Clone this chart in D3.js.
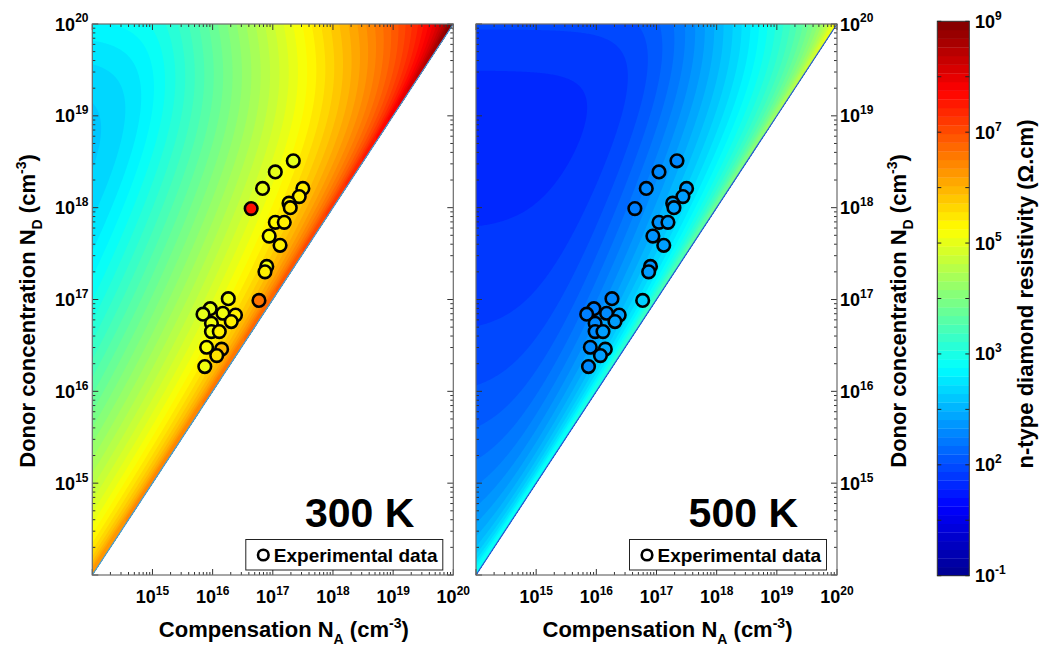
<!DOCTYPE html>
<html><head><meta charset="utf-8">
<script src="https://cdn.jsdelivr.net/npm/d3@7"></script>
<style>
body{margin:0;background:#fff}
svg{font-family:"Liberation Sans",Arial,Helvetica,sans-serif;font-weight:bold}
</style></head><body>
<svg id="chart" width="1045" height="650"></svg>
<script>
// ---------------- data ----------------
const axisDomain = [1e14, 1e20];
const majorExponents = [15, 16, 17, 18, 19, 20];
const temperatures = [300, 500];
const panelLabels = ["300 K", "500 K"];
const legendLabel = "Experimental data";
// experimental samples: compensation N_A and donor N_D (cm^-3)
const sampleNA = [2.19e17,1.10e17,6.76e16,3.16e17,2.75e17,4.37e16,1.86e17,1.95e17,1.10e17,1.55e17,
  8.71e16,1.32e17,7.94e16,7.41e16,5.89e16,1.82e16,9.12e15,1.48e16,2.40e16,6.92e15,
  2.04e16,9.55e15,9.55e15,1.29e16,1.41e16,7.94e15,1.17e16,7.41e15];
const sampleND = [3.24e18,2.45e18,1.62e18,1.62e18,1.32e18,9.77e17,1.12e18,1.00e18,6.92e17,6.92e17,
  4.90e17,3.89e17,2.29e17,2.00e17,9.77e16,1.02e17,7.94e16,7.08e16,6.76e16,6.92e16,
  5.75e16,5.50e16,4.47e16,4.47e16,2.88e16,3.02e16,2.45e16,1.86e16];
// measured log10 resistivity of samples (Ohm.cm)
const sampleLogRho300 = [5.0,5.0,5.0,5.4,5.4,7.6,5.4,5.5,5.3,5.4,5.2,5.4,5.1,5.4,6.6,5.1,5.0,5.1,5.4,5.0,
  5.4,5.1,5.1,5.4,5.9,5.2,5.5,5.1];
const sampleLogRho500 = [1.6,1.6,1.6,1.8,1.8,1.5,1.8,1.8,1.7,1.8,1.7,1.8,1.7,1.8,2.3,1.6,1.5,1.6,1.8,1.5,
  1.8,1.6,1.6,1.8,1.9,1.6,1.8,1.6];
// colour bar: log10 range and printed tick labels (as in original)
const colorbarDomain = [-1, 9];
const colorbarTickValues = [-1, 1, 3, 5, 7, 9];
const colorbarTickLabels = ["-1", "2", "3", "5", "7", "9"];
const colorbarMinorValues = [0, 2, 4, 6, 8];
// physical model of n-type (P-doped) diamond resistivity
const model = {Ed: 0.535, Nc300: 1.5e19, g: 2, muMax: 2900, beta: 1.0,
  N1: 3.24e16, a1: 0.45, gamma: 2.5, N2: 3.3e18, a2: 1.5, rMin: 1.15};

// ---------------- helpers ----------------
const svg = d3.select("#chart");
const jet = d3.scaleLinear().domain([0, 0.125, 0.375, 0.625, 0.875, 1])
  .range(["#00008f", "#0000ff", "#00ffff", "#ffff00", "#ff0000", "#800000"]).clamp(true);
const cnorm = d3.scaleLinear().domain(colorbarDomain).range([0, 1]).clamp(true);
const colorOf = v => jet(cnorm(v));

function logRho(NA, ND, T) {
  const kT = 8.617e-5 * T, tr = T / 300;
  const Nc = model.Nc300 * Math.pow(tr, 1.5);
  const n1 = Nc / model.g * Math.exp(-model.Ed / kT);
  const d = ND - NA, b = NA + n1;
  const n = 2 * n1 * d / (b + Math.sqrt(b * b + 4 * n1 * d));
  const N = ND + NA;
  const invMu = (Math.pow(tr, model.beta) + Math.pow(N / model.N1, model.a1) * Math.pow(tr, model.gamma)
    + Math.pow(N / model.N2, model.a2)) / model.muMax;
  return -Math.log10(1.602e-19 * n / invMu);
}

const minorValues = [];
for (let e = 14; e < 20; e++) for (let m = 2; m <= 9; m++) minorValues.push(m * Math.pow(10, e));
const majorValues = d3.range(14, 21).map(e => Math.pow(10, e));

const panelW = 361, plotTop = 24, plotBottom = 575;
const panels = [{x0: 92.3, labelSide: "left"}, {x0: 476, labelSide: "right"}];

function supLabel(g, x, y, exp, anchor, fs, ss) {
  const t = g.append("text").attr("x", x).attr("y", y).attr("text-anchor", anchor)
    .attr("font-size", fs).attr("fill", "#000");
  t.append("tspan").text("10");
  t.append("tspan").attr("dy", -0.45 * fs).attr("font-size", ss).text(exp);
  return t;
}

const nx = 300, ny = 300;
const levels = d3.range(colorbarDomain[0], colorbarDomain[1] + 1e-9, 10 / 64);

panels.forEach((p, k) => {
  const T = temperatures[k];
  const xs = d3.scaleLog().domain(axisDomain).range([p.x0, p.x0 + panelW]);
  const ys = d3.scaleLog().domain(axisDomain).range([plotBottom, plotTop]);
  const g = svg.append("g");

  // grid of modelled resistivity
  const vals = new Array(nx * ny);
  for (let j = 0; j < ny; j++) {
    const ld = 20 - (j + 0.5) * 6 / ny;
    for (let i = 0; i < nx; i++) {
      const la = 14 + (i + 0.5) * 6 / nx;
      const NA = Math.pow(10, la);
      const ND = Math.max(Math.pow(10, ld), NA * model.rMin);
      vals[i + j * nx] = Math.max(colorbarDomain[0], Math.min(9.9, logRho(NA, ND, T)));
    }
  }
  const contours = d3.contours().size([nx, ny]).thresholds(levels)(vals);
  const proj = d3.geoTransform({point: function(x, y) {
    this.stream.point(xs(Math.pow(10, 14 + x * 6 / nx)), ys(Math.pow(10, 20 - y * 6 / ny)));
  }});
  const path = d3.geoPath(proj);
  const clipId = "clip" + k;
  svg.append("clipPath").attr("id", clipId).append("path")
    .attr("d", d3.line()([[xs(1e14), ys(1e14)], [xs(1e20), ys(1e20)], [xs(1e14), ys(1e20)]]) + "Z");
  g.append("g").attr("clip-path", `url(#${clipId})`).selectAll("path").data(contours).join("path")
    .attr("d", path).attr("fill", d => colorOf(d.value + 5 / 64)).attr("stroke", "none");
  // diagonal N_D = N_A
  g.append("line").attr("x1", xs(1e14)).attr("y1", ys(1e14)).attr("x2", xs(1e20)).attr("y2", ys(1e20))
    .attr("stroke", k === 0 ? "#3f9be0" : "#2a55d0").attr("stroke-width", 1.2);

  // experimental points
  const logr = k === 0 ? sampleLogRho300 : sampleLogRho500;
  g.append("g").selectAll("circle").data(sampleNA.map((a, i) => ({a, d: sampleND[i], r: logr[i]})))
    .join("circle").attr("cx", d => xs(d.a)).attr("cy", d => ys(d.d)).attr("r", 6.3)
    .attr("fill", d => colorOf(d.r)).attr("stroke", "#000").attr("stroke-width", 2.6);

  // frame + ticks on all four sides (inward)
  const ax = g.append("g").attr("stroke", "#333").attr("stroke-width", 1);
  const addTicks = (vs, len) => {
    vs.forEach(v => {
      const X = xs(v), Y = ys(v);
      ax.append("line").attr("x1", X).attr("x2", X).attr("y1", plotBottom).attr("y2", plotBottom - len);
      ax.append("line").attr("x1", X).attr("x2", X).attr("y1", plotTop).attr("y2", plotTop + len);
      ax.append("line").attr("y1", Y).attr("y2", Y).attr("x1", xs.range()[0]).attr("x2", xs.range()[0] + len);
      ax.append("line").attr("y1", Y).attr("y2", Y).attr("x1", xs.range()[1]).attr("x2", xs.range()[1] - len);
    });
  };
  addTicks(minorValues, 3);
  addTicks(majorValues, 6);
  g.append("rect").attr("x", xs.range()[0]).attr("y", plotTop).attr("width", panelW).attr("height", plotBottom - plotTop)
    .attr("fill", "none").attr("stroke", "#6b6b6b").attr("stroke-width", 1.2);

  // tick labels
  majorExponents.forEach(e => {
    supLabel(g, xs(Math.pow(10, e)), 603, String(e), "middle", 18, 12);
    if (p.labelSide === "left") supLabel(g, 88.5, ys(Math.pow(10, e)) + 6.5, String(e), "end", 18, 12);
    else supLabel(g, xs.range()[1] + 3, ys(Math.pow(10, e)) + 6.5, String(e), "start", 18, 12);
  });

  // axis titles
  const cx = (xs.range()[0] + xs.range()[1]) / 2 + 11;
  const xt = g.append("text").attr("x", cx).attr("y", 637).attr("text-anchor", "middle").attr("font-size", 22);
  xt.append("tspan").text("Compensation N");
  xt.append("tspan").attr("dy", 7).attr("font-size", 14).text("A");
  xt.append("tspan").attr("dy", -7).text(" (cm");
  xt.append("tspan").attr("dy", -9).attr("font-size", 14).text("-3");
  xt.append("tspan").attr("dy", 9).text(")");

  const ytx = p.labelSide === "left" ? 35 : 906;
  const yt = g.append("text").attr("transform", `translate(${ytx},311) rotate(-90)`)
    .attr("text-anchor", "middle").attr("font-size", 22);
  yt.append("tspan").text("Donor concentration N");
  yt.append("tspan").attr("dy", 7).attr("font-size", 14).text("D");
  yt.append("tspan").attr("dy", -7).text(" (cm");
  yt.append("tspan").attr("dy", -9).attr("font-size", 14).text("-3");
  yt.append("tspan").attr("dy", 9).text(")");

  // temperature label
  g.append("text").attr("x", xs.range()[1] - 39).attr("y", 527).attr("text-anchor", "end")
    .attr("font-size", 41).text(panelLabels[k]);

  // legend
  const lx = xs.range()[1] - 207.5, ly = 539.5;
  g.append("rect").attr("x", lx).attr("y", ly).attr("width", 197).attr("height", 30.5)
    .attr("fill", "#fff").attr("stroke", "#222").attr("stroke-width", 1);
  g.append("circle").attr("cx", lx + 17.5).attr("cy", ly + 15.5).attr("r", 5.3)
    .attr("fill", "none").attr("stroke", "#000").attr("stroke-width", 2.6);
  g.append("text").attr("x", lx + 28).attr("y", ly + 22).attr("font-size", 19).text(legendLabel);
});

// ---------------- colour bar ----------------
const cb = {x: 937.3, w: 32};
const cys = d3.scaleLinear().domain(colorbarDomain).range([575.7, 21.3]);
const cbg = svg.append("g");
const bands = d3.range(64);
cbg.selectAll("rect.band").data(bands).join("rect").attr("class", "band")
  .attr("x", cb.x).attr("width", cb.w)
  .attr("y", i => cys(colorbarDomain[0] + (i + 1) * 10 / 64))
  .attr("height", i => cys(colorbarDomain[0] + i * 10 / 64) - cys(colorbarDomain[0] + (i + 1) * 10 / 64) + 0.3)
  .attr("fill", i => jet((i + 0.5) / 64));
cbg.append("rect").attr("x", cb.x).attr("y", cys(9)).attr("width", cb.w).attr("height", cys(-1) - cys(9))
  .attr("fill", "none").attr("stroke", "#333").attr("stroke-width", 1);
colorbarMinorValues.concat(colorbarTickValues).forEach(v => {
  cbg.append("line").attr("x1", cb.x).attr("x2", cb.x + 4).attr("y1", cys(v)).attr("y2", cys(v)).attr("stroke", "#222");
  cbg.append("line").attr("x1", cb.x + cb.w).attr("x2", cb.x + cb.w - 4).attr("y1", cys(v)).attr("y2", cys(v)).attr("stroke", "#222");
});
colorbarTickValues.forEach((v, i) => supLabel(cbg, 975, cys(v) + 6.5, colorbarTickLabels[i], "start", 18, 12));
const ct = cbg.append("text").attr("transform", "translate(1033,294) rotate(-90)")
  .attr("text-anchor", "middle").attr("font-size", 22);
ct.text("n-type diamond resistivity (Ω.cm)");
</script>
</body></html>
